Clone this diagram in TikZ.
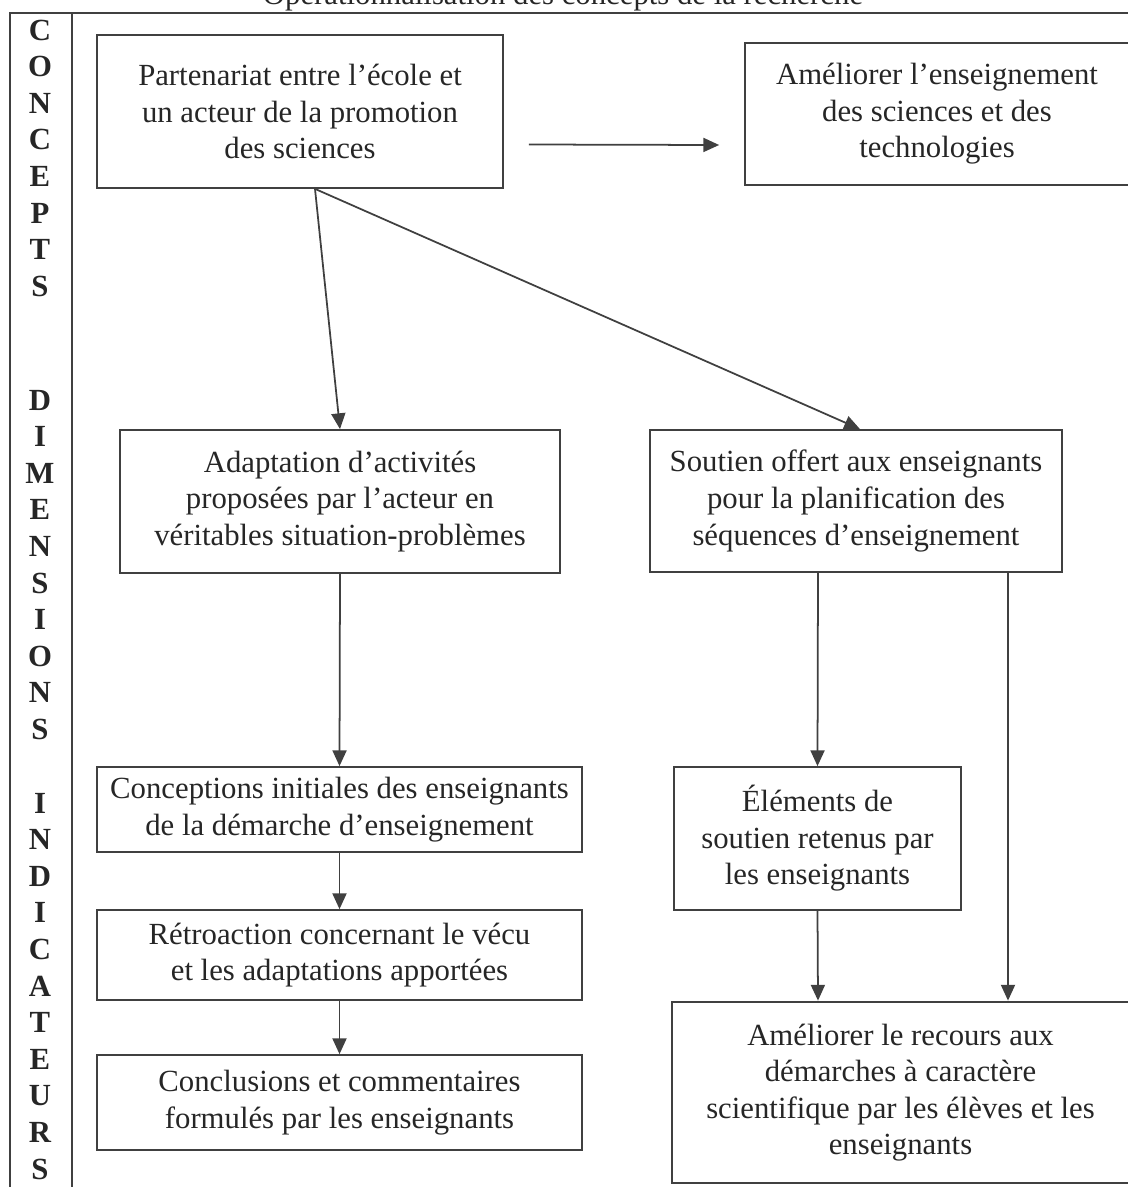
\documentclass[tikz,border=0pt]{standalone}
\usepackage{fontspec}
\setmainfont{Liberation Serif}
\usetikzlibrary{arrows.meta,calc}

\tikzset{
  box/.style={draw=black!75,line width=1pt,align=center,inner sep=0pt,
    text=black!85,font=\fontsize{17.5}{20.8}\selectfont},
  link/.style={draw=black!75,line width=1pt,-{Triangle[length=9pt,width=8pt]}},
  sideletter/.style={text=black!85,font=\fontsize{17.5}{20.8}\selectfont\bfseries}
}

\begin{document}
\begin{tikzpicture}[x=0.02cm,y=-0.02cm]
  \pgfmathsetmacro\lstep{36.6}   % spacing of the letters in the side column
  \useasboundingbox (0,0) rectangle (1127,1187);

% frame and title
  \draw[black!75,line width=1pt] (10,1200) -- (10,13) -- (1140,13);
  \draw[black!75,line width=1pt] (72,13) -- (72,1200);
  \node[anchor=base,text=black!85,font=\fontsize{17.5}{20.8}\selectfont] (title) at (563,4)
    {Opérationnalisation des concepts de la recherche};

% side column
  \foreach \l [count=\i] in {C,O,N,C,E,P,T,S}
    \node[sideletter] (con\i) at (40,{30+\lstep*(\i-1)}) {\l};
  \foreach \l [count=\i] in {D,I,M,E,N,S,I,O,N,S}
    \node[sideletter] (dim\i) at (40,{400+\lstep*(\i-1)}) {\l};
  \foreach \l [count=\i] in {I,N,D,I,C,A,T,E,U,R,S}
    \node[sideletter] (ind\i) at (40,{803+\lstep*(\i-1)}) {\l};

% concepts
  \node[box,minimum width=8.12cm,minimum height=3.06cm] (partner) at (300,111.5)
    {Partenariat entre l'école et\\un acteur de la promotion\\des sciences};
  \node[box,minimum width=7.68cm,minimum height=2.84cm] (goal) at (937,114)
    {Améliorer l'enseignement\\des sciences et des\\technologies};
  \draw[link] ($(partner.east)+(25,33)$) -- ($(goal.west)+(-25,31)$);

% dimensions
  \node[box,minimum width=8.8cm,minimum height=2.86cm] (adapt) at (340,501.5)
    {Adaptation d'activités\\proposées par l'acteur en\\véritables situation-problèmes};
  \node[box,minimum width=8.24cm,minimum height=2.84cm] (support) at (856,501)
    {Soutien offert aux enseignants\\pour la planification des\\séquences d'enseignement};
  \draw[link] ($(partner.south)+(15,0)$) -- (adapt.north);
  \draw[link] ($(partner.south)+(15,0)$) -- ($(support.north)+(4,0)$);

% indicateurs
  \node[box,minimum width=9.7cm,minimum height=1.7cm] (concep) at (339.5,809.5)
    {Conceptions initiales des enseignants\\de la démarche d'enseignement};
  \node[box,minimum width=9.7cm,minimum height=1.8cm] (retro) at (339.5,955)
    {Rétroaction concernant le vécu\\et les adaptations apportées};
  \node[box,minimum width=9.7cm,minimum height=1.9cm] (concl) at (339.5,1102.5)
    {Conclusions et commentaires\\formulés par les enseignants};
  \node[box,minimum width=5.74cm,minimum height=2.86cm] (elems) at (817.5,838.5)
    {Éléments de\\soutien retenus par\\les enseignants};
  \node[box,line width=1.6pt,minimum width=9.14cm,minimum height=3.62cm] (recours) at (900.5,1092.5)
    {Améliorer le recours aux\\démarches à caractère\\scientifique par les élèves et les\\enseignants};

  \draw[link] (adapt.south) -- (concep.north);
  \draw[link] (concep.south) -- (retro.north);
  \draw[link] (retro.south) -- (concl.north);
  \draw[link] ($(support.south)+(-38,0)$) -- (elems.north);
  \draw[link] ($(support.south)+(152,0)$) -- ($(recours.north)+(107.5,0)$);
  \draw[link] (elems.south) -- ($(recours.north)+(-82.5,0)$);

\end{tikzpicture}
\end{document}
